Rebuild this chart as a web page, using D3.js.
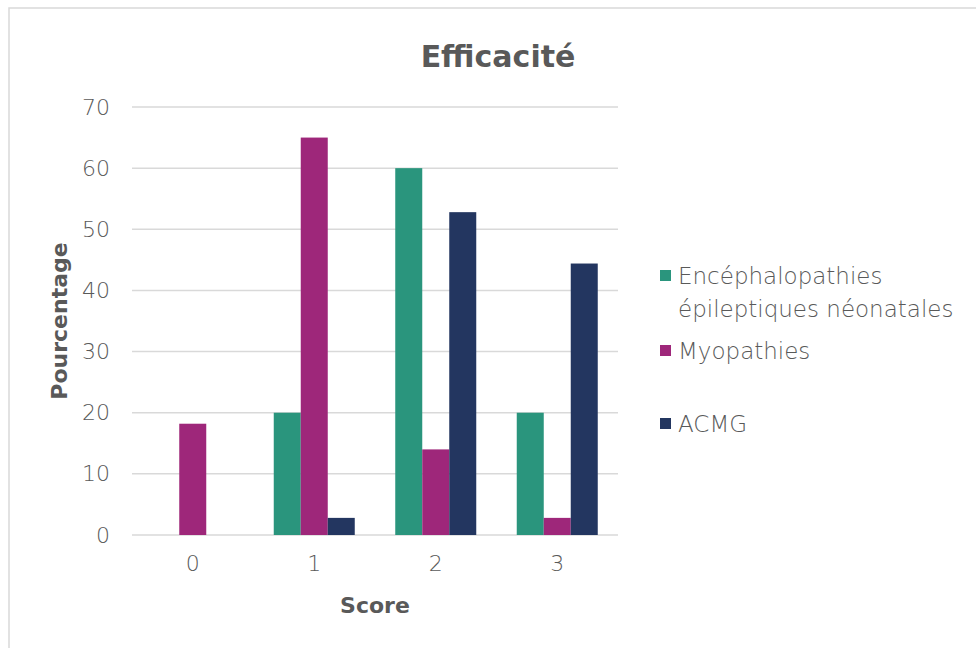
<!DOCTYPE html>
<html>
<head>
<meta charset="utf-8">
<script src="https://cdn.jsdelivr.net/npm/d3@7"></script>
<style>
  body { margin: 0; background: #fff; }
  text { font-family: "DejaVu Sans", sans-serif; fill: #595959; }
</style>
</head>
<body>
<svg width="976" height="648"></svg>
<script>
var scores = ["0", "1", "2", "3"];
var seriesNames = ["Encéphalopathies épileptiques néonatales", "Myopathies", "ACMG"];
var encephalo = [0, 20, 60, 20];
var myopathies = [18.2, 65, 14, 2.8];
var acmg = [0, 2.8, 52.8, 44.4];
var yTicks = [0, 10, 20, 30, 40, 50, 60, 70];
var colors = ["#2a957d", "#9e277a", "#233660"];

var svg = d3.select("svg"),
    width = +svg.attr("width"),
    height = +svg.attr("height");

var margin = {top: 107, right: 358, bottom: 113, left: 132};

// chart frame
svg.append("rect")
    .attr("x", 9).attr("y", 8)
    .attr("width", 980).attr("height", 660)
    .attr("fill", "#fff")
    .attr("stroke", "#d9d9d9")
    .attr("stroke-width", 1.5);

var x0 = d3.scaleBand()
    .domain(scores)
    .range([margin.left, width - margin.right]);

var x1 = d3.scaleBand()
    .domain(d3.range(3))
    .range([0, 81]);

var y = d3.scaleLinear()
    .domain([0, 70])
    .range([height - margin.bottom, margin.top]);

var data = [encephalo, myopathies, acmg];

// gridlines
svg.append("g")
    .selectAll("line")
    .data(yTicks)
    .enter().append("line")
    .attr("x1", margin.left)
    .attr("x2", width - margin.right)
    .attr("y1", function (d) { return y(d); })
    .attr("y2", function (d) { return y(d); })
    .attr("stroke", "#d9d9d9")
    .attr("stroke-width", 1.5);

// y axis
var yAxis = svg.append("g")
    .attr("transform", "translate(" + margin.left + ",0)")
    .call(d3.axisLeft(y).tickValues(yTicks).tickSize(0).tickPadding(22));
yAxis.select(".domain").remove();
yAxis.selectAll("text")
    .style("font-family", "'DejaVu Sans', sans-serif")
    .style("font-size", "22px")
    .style("font-weight", 200)
    .attr("fill", "#595959");

// bars
var groups = svg.append("g")
    .selectAll("g")
    .data(scores)
    .enter().append("g")
    .attr("transform", function (d) {
        return "translate(" + (x0(d) + (x0.bandwidth() - 81) / 2) + ",0)";
    });

groups.selectAll("rect")
    .data(function (d, i) {
        return data.map(function (s, k) { return {k: k, v: s[i]}; });
    })
    .enter().append("rect")
    .attr("x", function (d) { return x1(d.k); })
    .attr("width", x1.bandwidth())
    .attr("y", function (d) { return y(d.v); })
    .attr("height", function (d) { return y(0) - y(d.v); })
    .attr("fill", function (d) { return colors[d.k]; });

// x axis
var xAxis = svg.append("g")
    .attr("transform", "translate(0," + y(0) + ")")
    .call(d3.axisBottom(x0).tickSize(0).tickPadding(20));
xAxis.select(".domain").remove();
xAxis.selectAll("text")
    .style("font-family", "'DejaVu Sans', sans-serif")
    .style("font-size", "22px")
    .style("font-weight", 200)
    .attr("fill", "#595959");

// titles
svg.append("text")
    .attr("x", 498).attr("y", 67)
    .attr("text-anchor", "middle")
    .style("font-size", "30px")
    .style("font-weight", "bold")
    .text("Efficacité");

svg.append("text")
    .attr("x", 375).attr("y", 613)
    .attr("text-anchor", "middle")
    .style("font-size", "22px")
    .style("font-weight", "bold")
    .text("Score");

svg.append("text")
    .attr("transform", "translate(67,321) rotate(-90)")
    .attr("text-anchor", "middle")
    .style("font-size", "22px")
    .style("font-weight", "bold")
    .text("Pourcentage");

// legend
var legendRows = [
    {k: 0, lines: ["Encéphalopathies", "épileptiques néonatales"], y: 276},
    {k: 1, lines: ["Myopathies"], y: 351},
    {k: 2, lines: ["ACMG"], y: 424}
];
var legend = svg.append("g")
    .selectAll("g")
    .data(legendRows)
    .enter().append("g");
legend.append("rect")
    .attr("x", 660)
    .attr("y", function (d) { return d.y - 6; })
    .attr("width", 11).attr("height", 11)
    .attr("fill", function (d) { return colors[d.k]; });
legend.append("text")
    .attr("x", 678)
    .attr("y", function (d) { return d.y + 8; })
    .style("font-size", "23px")
    .style("font-weight", 200)
    .selectAll("tspan")
    .data(function (d) { return d.lines; })
    .enter().append("tspan")
    .attr("x", 678)
    .attr("dy", function (d, i) { return i === 0 ? 0 : 33; })
    .text(function (d) { return d; });
</script>
</body>
</html>
